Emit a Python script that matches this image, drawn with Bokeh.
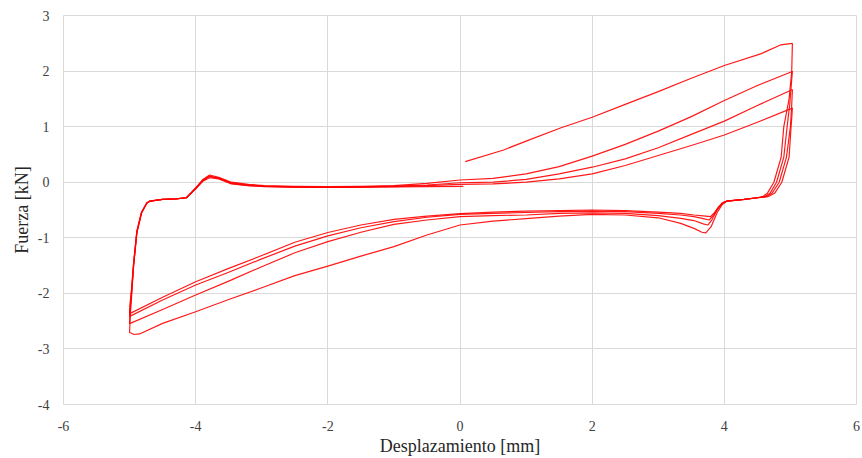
from bokeh.plotting import figure
from bokeh.models import Range1d, FixedTicker
from bokeh.embed import file_html
from bokeh.resources import INLINE

# ---------------- data ----------------
x_ticks = [-6, -4, -2, 0, 2, 4, 6]
y_ticks = [-4, -3, -2, -1, 0, 1, 2, 3]

# initial loading branch
load_x = [0.08, 0.66, 1.0, 1.53, 2.0, 2.5, 3.0, 3.5, 4.0, 4.55, 4.85, 5.03]
load_y = [0.37, 0.58, 0.74, 0.98, 1.17, 1.40, 1.63, 1.87, 2.10, 2.31, 2.47, 2.50]

# unloading drops at +5 mm (one per cycle)
drop1_x = [5.03, 5.02, 4.98, 4.90, 4.86, 4.75, 4.65, 4.58, 4.50]
drop1_y = [2.50, 2.00, 1.50, 1.00, 0.45, 0.00, -0.20, -0.26, -0.28]
drop2_x = [5.03, 5.01, 4.99, 4.95, 4.90, 4.79, 4.69, 4.61, 4.50]
drop2_y = [2.00, 1.70, 1.40, 1.00, 0.45, 0.00, -0.20, -0.26, -0.28]
drop3_x = [5.03, 5.02, 5.00, 4.94, 4.83, 4.72, 4.63, 4.50]
drop3_y = [1.67, 1.40, 1.00, 0.45, 0.00, -0.20, -0.26, -0.28]
drop4_x = [5.03, 5.02, 5.01, 4.98, 4.87, 4.76, 4.66, 4.50]
drop4_y = [1.34, 1.15, 1.00, 0.45, 0.00, -0.20, -0.26, -0.28]

# lower branches (from +4.3 mm back to -5 mm)
low1_x = [4.30, 4.04, 3.97, 3.89, 3.80, 3.72, 3.66, 3.54, 3.34, 3.0, 2.5, 2.0, 1.5, 1.0, 0.5, 0.0,
          -0.5, -1.0, -1.5, -2.0, -2.5, -3.0, -3.5, -4.0, -4.5, -4.85, -4.93, -4.99]
low1_y = [-0.31, -0.34, -0.40, -0.55, -0.80, -0.91, -0.90, -0.83, -0.74, -0.64, -0.59, -0.58, -0.61,
          -0.655, -0.70, -0.77, -0.95, -1.16, -1.33, -1.51, -1.68, -1.90, -2.11, -2.33, -2.54, -2.73,
          -2.74, -2.71]
low2_x = [4.30, 4.04, 3.97, 3.89, 3.81, 3.75, 3.68, 3.54, 3.34, 3.0, 2.5, 2.0, 1.5, 1.0, 0.5, 0.0,
          -0.5, -1.0, -1.5, -2.0, -2.5, -3.0, -3.5, -4.0, -4.5, -4.99]
low2_y = [-0.31, -0.34, -0.38, -0.50, -0.68, -0.77, -0.75, -0.69, -0.65, -0.60, -0.56, -0.55, -0.56,
          -0.59, -0.60, -0.62, -0.68, -0.76, -0.90, -1.07, -1.27, -1.52, -1.78, -2.03, -2.29, -2.54]
low3_x = [4.30, 4.04, 3.97, 3.90, 3.83, 3.77, 3.70, 3.54, 3.34, 3.0, 2.5, 2.0, 1.5, 1.0, 0.5, 0.0,
          -0.5, -1.0, -1.5, -2.0, -2.5, -3.0, -3.5, -4.0, -4.5, -4.99]
low3_y = [-0.31, -0.34, -0.37, -0.47, -0.60, -0.68, -0.66, -0.62, -0.59, -0.56, -0.53, -0.52, -0.53,
          -0.545, -0.56, -0.58, -0.63, -0.71, -0.82, -0.965, -1.15, -1.38, -1.62, -1.85, -2.12, -2.41]
low4_x = [4.30, 4.04, 3.97, 3.91, 3.85, 3.79, 3.72, 3.54, 3.34, 3.0, 2.5, 2.0, 1.5, 1.0, 0.5, 0.0,
          -0.5, -1.0, -1.5, -2.0, -2.5, -3.0, -3.5, -4.0, -4.5, -4.99]
low4_y = [-0.31, -0.34, -0.37, -0.45, -0.55, -0.62, -0.61, -0.59, -0.56, -0.54, -0.51, -0.50, -0.51,
          -0.52, -0.54, -0.565, -0.61, -0.67, -0.77, -0.905, -1.08, -1.32, -1.55, -1.79, -2.07, -2.36]

# reloading: rise at -5 mm and upper branches toward +5 mm
up1_x = [-5.0, -4.99, -4.97, -4.94, -4.89, -4.82, -4.74, -4.69, -4.5, -4.3, -4.14, -4.0, -3.89,
         -3.79, -3.65, -3.46, -3.2, -2.96, -2.5, -2.0, -1.5, -1.0, -0.5, 0.0, 0.5, 1.0, 1.5, 2.0,
         2.5, 3.0, 3.5, 4.0, 4.5, 5.0, 5.03]
up1_y = [-2.70, -2.40, -2.06, -1.52, -0.92, -0.56, -0.38, -0.34, -0.31, -0.30, -0.28, -0.10, 0.05,
         0.13, 0.09, 0.0, -0.04, -0.06, -0.075, -0.08, -0.075, -0.06, -0.02, 0.04, 0.07, 0.15, 0.28,
         0.47, 0.68, 0.92, 1.18, 1.47, 1.74, 1.98, 2.00]
up2_x = [-5.0, -4.99, -4.97, -4.94, -4.89, -4.82, -4.74, -4.69, -4.5, -4.3, -4.14, -4.0, -3.89,
         -3.79, -3.65, -3.46, -3.2, -2.96, -2.5, -2.0, -1.5, -1.0, -0.5, 0.0, 0.5, 1.0, 1.5, 2.0,
         2.5, 3.0, 3.5, 4.0, 4.5, 5.0, 5.03]
up2_y = [-2.54, -2.30, -2.00, -1.50, -0.90, -0.55, -0.38, -0.34, -0.31, -0.30, -0.28, -0.11, 0.04,
         0.11, 0.08, -0.01, -0.05, -0.07, -0.085, -0.09, -0.085, -0.07, -0.05, -0.01, 0.0, 0.05,
         0.15, 0.27, 0.42, 0.62, 0.86, 1.10, 1.38, 1.65, 1.67]
up3_x = [-5.0, -4.99, -4.97, -4.94, -4.89, -4.82, -4.74, -4.69, -4.5, -4.3, -4.14, -4.0, -3.89,
         -3.79, -3.65, -3.46, -3.2, -2.96, -2.5, -2.0, -1.5, -1.0, -0.5, 0.0, 0.5, 1.0, 1.5, 2.0,
         2.5, 3.0, 3.5, 4.0, 4.5, 5.0, 5.03]
up3_y = [-2.41, -2.20, -1.95, -1.48, -0.89, -0.55, -0.38, -0.34, -0.31, -0.30, -0.28, -0.12, 0.03,
         0.10, 0.07, -0.02, -0.06, -0.075, -0.09, -0.095, -0.09, -0.08, -0.06, -0.04, -0.03, 0.0,
         0.06, 0.15, 0.30, 0.48, 0.66, 0.85, 1.08, 1.32, 1.34]
up4_x = [-5.0, -4.99, -4.97, -4.94, -4.89, -4.82, -4.74, -4.69, -4.5, -4.3, -4.14, -4.0, -3.89,
         -3.79, -3.65, -3.46, -3.2, -2.96, -2.5, -2.0, -1.5, -1.0, -0.5, 0.05]
up4_y = [-2.36, -2.15, -1.92, -1.46, -0.88, -0.54, -0.37, -0.34, -0.31, -0.30, -0.28, -0.12, 0.02,
         0.08, 0.06, -0.03, -0.06, -0.08, -0.09, -0.095, -0.09, -0.085, -0.08, -0.075]

cycles = [
    (drop1_x + low1_x + up1_x, drop1_y + low1_y + up1_y),
    (drop2_x + low2_x + up2_x, drop2_y + low2_y + up2_y),
    (drop3_x + low3_x + up3_x, drop3_y + low3_y + up3_y),
    (drop4_x + low4_x + up4_x, drop4_y + low4_y + up4_y),
]

# ---------------- figure ----------------
FONT = "Liberation Serif"
GRID = "#d9d9d9"

p = figure(width=862, height=458, output_backend="svg", toolbar_location=None,
           x_range=Range1d(-6, 6), y_range=Range1d(-4, 3),
           min_border_left=63, min_border_right=6, min_border_top=15, min_border_bottom=54,
           background_fill_color="white", border_fill_color="white")
p.outline_line_color = GRID

line_kw = dict(line_color="#ff0000", line_width=1.2, line_alpha=0.9, line_join="round")
p.line(load_x, load_y, **line_kw)
for cx, cy in cycles:
    p.line(cx, cy, **line_kw)

p.axis.axis_line_color = None
p.axis.major_tick_line_color = None
p.axis.minor_tick_line_color = None
p.axis.major_label_text_font = FONT
p.axis.major_label_text_font_size = "14px"
p.axis.major_label_text_color = "#404040"
p.axis.axis_label_text_font = FONT
p.axis.axis_label_text_font_size = "18px"
p.axis.axis_label_text_font_style = "normal"
p.axis.axis_label_text_color = "#262626"

p.xaxis.ticker = FixedTicker(ticks=x_ticks)
p.yaxis.ticker = FixedTicker(ticks=y_ticks)
p.xaxis.major_label_overrides = {t: str(t) for t in x_ticks}
p.yaxis.major_label_overrides = {t: str(t) for t in y_ticks}
p.xaxis.axis_label = "Desplazamiento [mm]"
p.yaxis.axis_label = "Fuerza [kN]"
p.xaxis.major_label_standoff = 10
p.xaxis.axis_label_standoff = 2
p.yaxis.major_label_standoff = 8
p.yaxis.axis_label_standoff = 3

p.xgrid.ticker = FixedTicker(ticks=x_ticks)
p.ygrid.ticker = FixedTicker(ticks=y_ticks)
p.grid.grid_line_color = GRID
p.grid.grid_line_width = 1

open("out.html", "w").write(file_html(p, INLINE))
